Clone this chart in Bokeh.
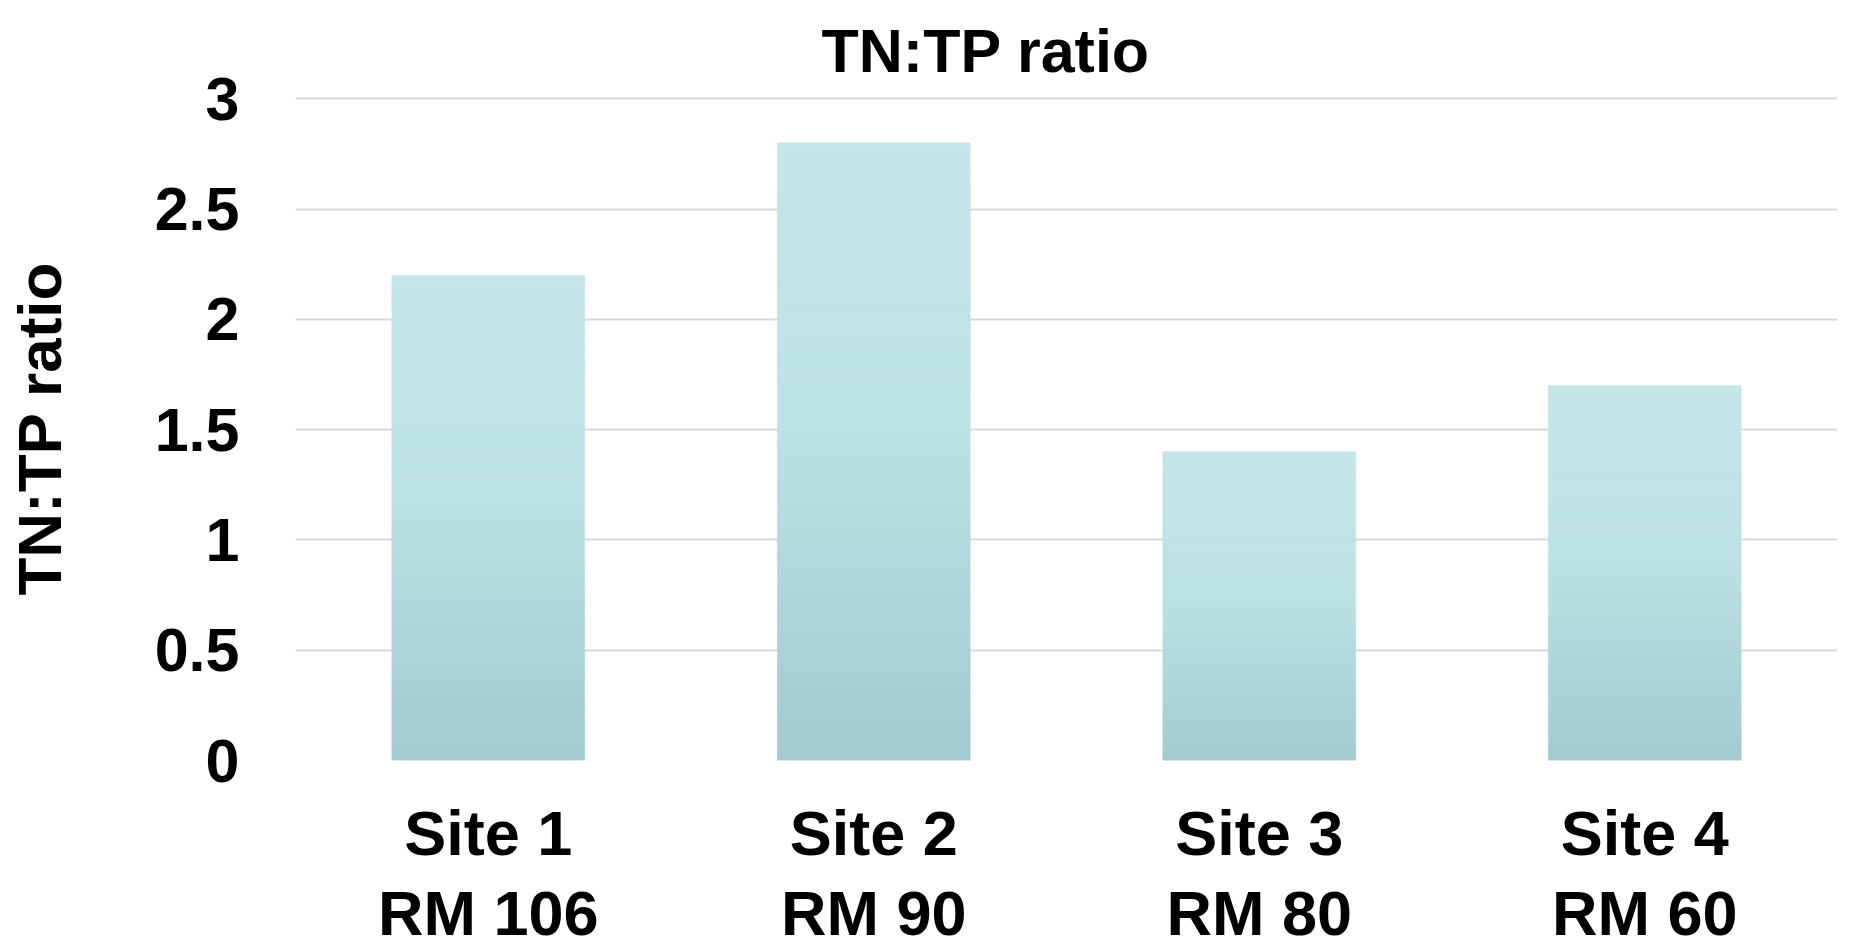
from bokeh.plotting import figure
from bokeh.models import Range1d, FactorRange, ColumnDataSource, FixedTicker, Title
from bokeh.embed import file_html
from bokeh.resources import INLINE

# Data
sites = ["Site 1\nRM 106", "Site 2\nRM 90", "Site 3\nRM 80", "Site 4\nRM 60"]
tn_tp_ratio = [2.2, 2.8, 1.4, 1.7]
y_ticks = [0, 0.5, 1, 1.5, 2, 2.5, 3]
y_tick_labels = ["0", "0.5", "1", "1.5", "2", "2.5", "3"]

FONT = "Liberation Sans"

# vertical gradient for each bar: colour stops from top (0) to bottom (1)
stops = [(0.0, (197, 229, 232)), (0.45, (188, 226, 229)), (1.0, (162, 202, 207))]


def grad_color(t):
    for (t0, c0), (t1, c1) in zip(stops[:-1], stops[1:]):
        if t <= t1:
            f = (t - t0) / (t1 - t0)
            r, g, b = (round(a + (bb - a) * f) for a, bb in zip(c0, c1))
            return "#%02x%02x%02x" % (r, g, b)
    return "#%02x%02x%02x" % stops[-1][1]


n_slices = 60
seg = dict(x=[], bottom=[], top=[], color=[])
for site, v in zip(sites, tn_tp_ratio):
    for i in range(n_slices):
        seg["x"].append(site)
        seg["bottom"].append(v * i / n_slices)
        seg["top"].append(v * (i + 1) / n_slices)
        seg["color"].append(grad_color(1 - (i + 0.5) / n_slices))
src = ColumnDataSource(seg)

p = figure(
    width=1852, height=951,
    x_range=FactorRange(*sites, range_padding=0, factor_padding=0),
    y_range=Range1d(0, 3.01),
    output_backend="svg", toolbar_location=None, tools="",
    min_border_left=295, min_border_right=15,
    min_border_top=96, min_border_bottom=186,
)
p.outline_line_color = None
p.background_fill_color = "white"
p.border_fill_color = "white"

p.vbar(x="x", bottom="bottom", top="top", width=0.5, source=src,
       fill_color="color", line_color="color", line_width=0.6)

# grid
p.xgrid.grid_line_color = None
p.ygrid.grid_line_color = "#d9d9d9"
p.ygrid.grid_line_width = 2

# y axis
p.yaxis.ticker = FixedTicker(ticks=y_ticks)
p.yaxis.major_label_overrides = dict(zip(y_ticks, y_tick_labels))
p.yaxis.axis_line_color = None
p.yaxis.major_tick_line_color = None
p.yaxis.minor_tick_line_color = None
p.yaxis.major_label_standoff = 50
p.yaxis.major_label_text_font = FONT
p.yaxis.major_label_text_font_style = "bold"
p.yaxis.major_label_text_font_size = "61px"
p.yaxis.major_label_text_color = "black"
p.yaxis.axis_label = "TN:TP ratio"
p.yaxis.axis_label_text_font = FONT
p.yaxis.axis_label_text_font_style = "bold"
p.yaxis.axis_label_text_font_size = "62px"
p.yaxis.axis_label_text_color = "black"
p.yaxis.axis_label_standoff = 78

# x axis
p.xaxis.axis_line_color = None
p.xaxis.major_tick_line_color = None
p.xaxis.minor_tick_line_color = None
p.xaxis.major_label_standoff = 31
p.xaxis.major_label_text_font = FONT
p.xaxis.major_label_text_font_style = "bold"
p.xaxis.major_label_text_font_size = "63px"
p.xaxis.major_label_text_color = "black"
p.xaxis.major_label_text_line_height = 1.15

# chart title
p.add_layout(Title(text="TN:TP ratio", align="left", offset=526,
                   text_font=FONT, text_font_style="bold",
                   text_font_size="61px", text_color="black", standoff=23), "above")

open("out.html", "w").write(file_html(p, INLINE))
